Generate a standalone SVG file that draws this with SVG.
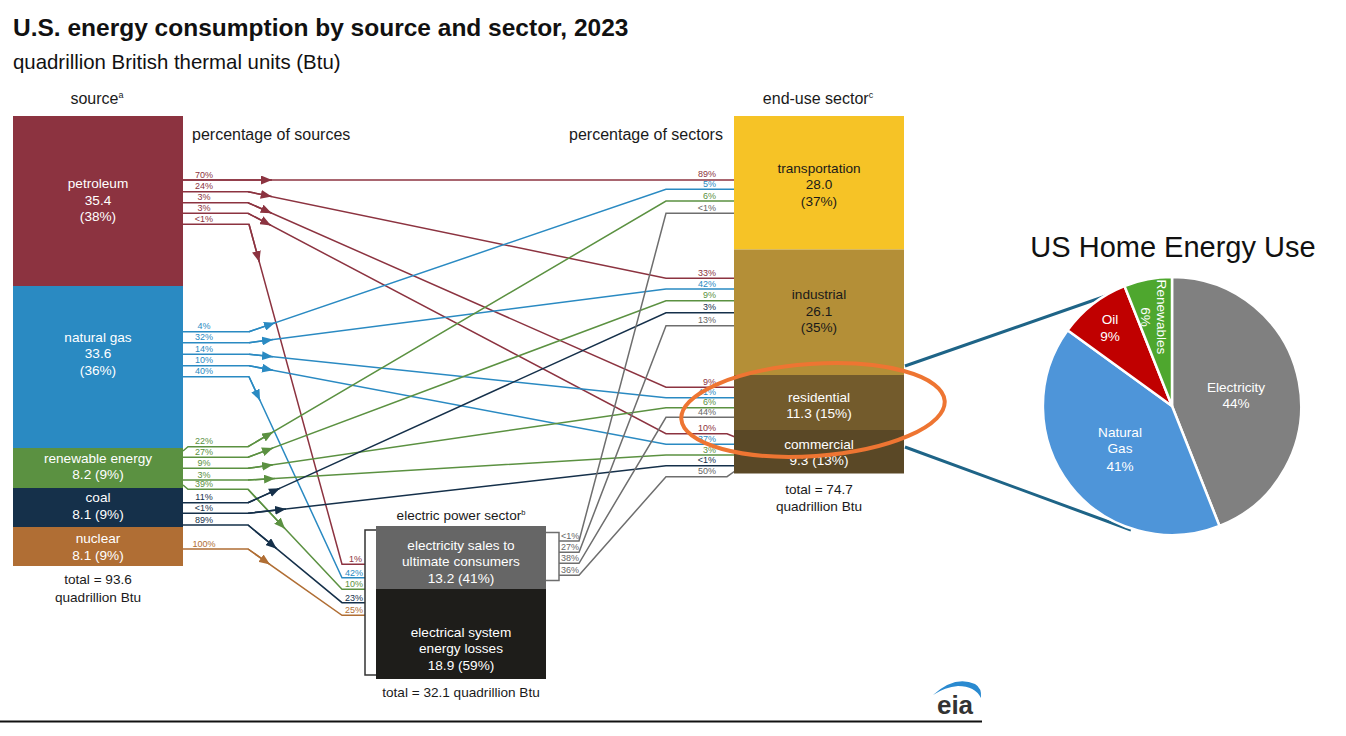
<svg xmlns="http://www.w3.org/2000/svg" width="1346" height="736" viewBox="0 0 1346 736">
<style>
text{font-family:"Liberation Sans",Arial,sans-serif}
.hd{font-size:16px;fill:#1a1a1a}
.nl{font-size:13.6px;fill:#fff;text-anchor:middle}
.dl{font-size:13.6px;fill:#1a1a1a;text-anchor:middle}
.p{font-size:9px}
.pl{text-anchor:middle}
.pr{text-anchor:end}
.ln{fill:none;stroke-width:1.5}
.r{stroke:#8c3340}.b{stroke:#2a8ac2}.g{stroke:#5b9141}.n{stroke:#15304a}.o{stroke:#b06e34}.y{stroke:#6e6e6e}
.tr{fill:#8c3340}.tb{fill:#2a8ac2}.tg{fill:#5b9141}.tn{fill:#15304a}.to{fill:#b06e34}.ty{fill:#666}
.pt{font-size:13.6px;fill:#fff;text-anchor:middle}
</style>
<defs>
<marker id="ar" markerUnits="userSpaceOnUse" markerWidth="12" markerHeight="9" refX="11" refY="4.5" orient="auto"><path d="M0,0 L11,4.5 L0,9 z" fill="#8c3340"/></marker>
<marker id="ab" markerUnits="userSpaceOnUse" markerWidth="12" markerHeight="9" refX="11" refY="4.5" orient="auto"><path d="M0,0 L11,4.5 L0,9 z" fill="#2a8ac2"/></marker>
<marker id="ag" markerUnits="userSpaceOnUse" markerWidth="12" markerHeight="9" refX="11" refY="4.5" orient="auto"><path d="M0,0 L11,4.5 L0,9 z" fill="#5b9141"/></marker>
<marker id="an" markerUnits="userSpaceOnUse" markerWidth="12" markerHeight="9" refX="11" refY="4.5" orient="auto"><path d="M0,0 L11,4.5 L0,9 z" fill="#15304a"/></marker>
<marker id="ao" markerUnits="userSpaceOnUse" markerWidth="12" markerHeight="9" refX="11" refY="4.5" orient="auto"><path d="M0,0 L11,4.5 L0,9 z" fill="#b06e34"/></marker>
</defs>
<rect width="1346" height="736" fill="#fff"/>

<g id="titles">
<text x="13" y="35.5" font-size="24.5" font-weight="bold" fill="#111">U.S. energy consumption by source and sector, 2023</text>
<text x="13" y="68.5" font-size="20.4" fill="#111">quadrillion British thermal units (Btu)</text>
<text x="97" y="104" class="hd" text-anchor="middle">source<tspan font-size="9" dy="-6">a</tspan></text>
<text x="192" y="140" class="hd">percentage of sources</text>
<text x="646" y="140" class="hd" text-anchor="middle">percentage of sectors</text>
<text x="818" y="104" class="hd" text-anchor="middle">end-use sector<tspan font-size="9" dy="-6">c</tspan></text>
</g>

<g id="connectors">
<g class="ln r">
<path d="M183,180 H735"/>
<path d="M183,191.7 H248 L666,278.3 H735"/>
<path d="M183,202.7 H248 L666,387.3 H735"/>
<path d="M183,213.3 H248 L666,433.7 H727 L735,437"/>
<path d="M183,224.3 H249 L342,564.3 H365"/>
<path d="M183,180 L272,180" marker-end="url(#ar)"/>
<path d="M248,191.7 L271.7,196.6" marker-end="url(#ar)"/>
<path d="M248,202.7 L271.7,213.2" marker-end="url(#ar)"/>
<path d="M248,213.3 L271,225.4" marker-end="url(#ar)"/>
<path d="M249,224.3 L259.3,262" marker-end="url(#ar)"/>
</g>
<g class="ln b">
<path d="M183,331.7 H249 L666,189.3 H735"/>
<path d="M183,342.7 H249 L666,289 H735"/>
<path d="M183,354.3 H249 L666,397.7 H735"/>
<path d="M183,365.7 H249 L666,444.3 H735"/>
<path d="M183,376.7 H249 L342,577.7 H365"/>
<path d="M249,331.7 L275,322.8" marker-end="url(#ab)"/>
<path d="M249,342.7 L273,339.6" marker-end="url(#ab)"/>
<path d="M249,354.3 L273,356.8" marker-end="url(#ab)"/>
<path d="M249,365.7 L273,370.2" marker-end="url(#ab)"/>
<path d="M249,376.7 L260,400.5" marker-end="url(#ab)"/>
</g>
<g class="ln g">
<path d="M183,451 L188,446.7 H248 L666,201 H735"/>
<path d="M183,457.3 H248 L666,300.7 H735"/>
<path d="M183,468.3 H248 L666,407.7 H735"/>
<path d="M183,480 H248 L666,455 H735"/>
<path d="M183,485 L188,489.3 H248 L342,589.3 H365"/>
<path d="M248,446.7 L273,432" marker-end="url(#ag)"/>
<path d="M248,457.3 L273,448" marker-end="url(#ag)"/>
<path d="M248,468.3 L273,464.7" marker-end="url(#ag)"/>
<path d="M248,480 L275,478.4" marker-end="url(#ag)"/>
<path d="M248,489.3 L285,528.7" marker-end="url(#ag)"/>
</g>
<g class="ln n">
<path d="M183,502.7 H248 L666,312.7 H735"/>
<path d="M183,513.3 H248 L666,465.7 H735"/>
<path d="M183,525 H248 L342,602.7 H365"/>
<path d="M248,502.7 L280,488.2" marker-end="url(#an)"/>
<path d="M248,513.3 L286,509" marker-end="url(#an)"/>
<path d="M248,525 L276.7,548.7" marker-end="url(#an)"/>
</g>
<g class="ln o">
<path d="M183,549 H248 L342,615.3 H365"/>
<path d="M248,549 L270,564.5" marker-end="url(#ao)"/>
</g>
<g class="ln y">
<path d="M559,541 H579 L666,213.3 H735"/>
<path d="M559,552.3 H579 L666,325.7 H735"/>
<path d="M559,563.3 H579 L666,417.3 H735"/>
<path d="M559,575.3 H579 L666,476.7 H727 L735,471"/>
</g>
<path class="ln" stroke="#333" d="M376,530 H365 V675 H376"/>
<path class="ln y" d="M546,532.5 H559 V580.5 H546"/>
</g>

<g id="conn-labels" class="p">
<g class="tr pl"><text x="204" y="177.5">70%</text><text x="204" y="189.2">24%</text><text x="204" y="200.2">3%</text><text x="204" y="210.8">3%</text><text x="204" y="221.8">&lt;1%</text></g>
<g class="tb pl"><text x="204" y="329.2">4%</text><text x="204" y="340.2">32%</text><text x="204" y="351.8">14%</text><text x="204" y="363.2">10%</text><text x="204" y="374.2">40%</text></g>
<g class="tg pl"><text x="204" y="444.2">22%</text><text x="204" y="454.8">27%</text><text x="204" y="465.8">9%</text><text x="204" y="477.5">3%</text><text x="204" y="486.8">39%</text></g>
<g class="tn pl"><text x="204" y="500.2">11%</text><text x="204" y="510.8">&lt;1%</text><text x="204" y="522.5">89%</text></g>
<g class="to pl"><text x="204" y="546.5">100%</text></g>
<g class="pr">
<text x="362" y="562" class="tr">1%</text><text x="363" y="575.5" class="tb">42%</text><text x="363" y="587" class="tg">10%</text><text x="363" y="600.5" class="tn">23%</text><text x="363" y="613" class="to">25%</text>
</g>
<g class="ty"><text x="561" y="539">&lt;1%</text><text x="561" y="550.3">27%</text><text x="561" y="561.3">38%</text><text x="561" y="573.3">36%</text></g>
<g class="pr">
<text x="716" y="177.3" class="tr">89%</text><text x="716" y="187" class="tb">5%</text><text x="716" y="198.7" class="tg">6%</text><text x="716" y="211" class="ty">&lt;1%</text>
<text x="716" y="276" class="tr">33%</text><text x="716" y="286.7" class="tb">42%</text><text x="716" y="298.4" class="tg">9%</text><text x="716" y="310.4" class="tn">3%</text><text x="716" y="323.4" class="ty">13%</text>
<text x="716" y="385" class="tr">9%</text><text x="716" y="395.4" class="tb">41%</text><text x="716" y="405.4" class="tg">6%</text><text x="716" y="415" class="ty">44%</text>
<text x="716" y="431.4" class="tr">10%</text><text x="716" y="442" class="tb">37%</text><text x="716" y="452.7" class="tg">3%</text><text x="716" y="463.4" class="tn">&lt;1%</text><text x="716" y="474.4" class="ty">50%</text>
</g>
</g>

<g id="src-petroleum"><rect x="13" y="116" width="170" height="170" fill="#8c3340"/><text class="nl" x="98" y="188">petroleum</text><text class="nl" x="98" y="205">35.4</text><text class="nl" x="98" y="221">(38%)</text></g>
<g id="src-natural-gas"><rect x="13" y="286" width="170" height="162" fill="#2a8ac2"/><text class="nl" x="98" y="342">natural gas</text><text class="nl" x="98" y="358">33.6</text><text class="nl" x="98" y="375">(36%)</text></g>
<g id="src-renewable"><rect x="13" y="448" width="170" height="40" fill="#5b9141"/><text class="nl" x="98" y="463">renewable energy</text><text class="nl" x="98" y="479">8.2 (9%)</text></g>
<g id="src-coal"><rect x="13" y="488" width="170" height="39" fill="#15304a"/><text class="nl" x="98" y="502">coal</text><text class="nl" x="98" y="519">8.1 (9%)</text></g>
<g id="src-nuclear"><rect x="13" y="527" width="170" height="39" fill="#b06e34"/><text class="nl" x="98" y="543">nuclear</text><text class="nl" x="98" y="560">8.1 (9%)</text></g>
<g id="src-total"><text class="dl" x="98" y="584">total = 93.6</text><text class="dl" x="98" y="602">quadrillion Btu</text></g>

<g id="electric-power">
<text class="dl" x="461" y="520" font-size="12.8">electric power sector<tspan font-size="7.5" dy="-5">b</tspan></text>
<rect x="376" y="526" width="170" height="63" fill="#666"/>
<text class="nl" x="461" y="549.5">electricity sales to</text><text class="nl" x="461" y="566">ultimate consumers</text><text class="nl" x="461" y="582.5">13.2 (41%)</text>
<rect x="376" y="589" width="170" height="90" fill="#1e1d1a"/>
<text class="nl" x="461" y="637">electrical system</text><text class="nl" x="461" y="653">energy losses</text><text class="nl" x="461" y="669.5">18.9 (59%)</text>
<text class="dl" x="461" y="697">total = 32.1 quadrillion Btu</text>
</g>

<g id="sec-transportation"><rect x="734" y="116" width="170" height="133.5" fill="#f6c326"/><text class="dl" x="819" y="173">transportation</text><text class="dl" x="819" y="189">28.0</text><text class="dl" x="819" y="206">(37%)</text></g>
<g id="sec-industrial"><rect x="734" y="249.5" width="170" height="125.5" fill="#b48f37"/><text class="dl" x="819" y="299">industrial</text><text class="dl" x="819" y="316">26.1</text><text class="dl" x="819" y="332">(35%)</text></g>
<g id="sec-residential"><rect x="734" y="375" width="170" height="55" fill="#735b2c"/><text class="nl" x="819" y="401.5">residential</text><text class="nl" x="819" y="418">11.3 (15%)</text></g>
<g id="sec-commercial"><rect x="734" y="430" width="170" height="43.5" fill="#5a4826"/><text class="nl" x="819" y="448.5">commercial</text><text class="nl" x="819" y="465">9.3 (13%)</text></g>
<g id="sec-total"><text class="dl" x="819" y="494">total = 74.7</text><text class="dl" x="819" y="511">quadrillion Btu</text></g>

<g id="callout">
<path d="M905,366 L1123,290 M905,447 L1131,530" stroke="#1e6487" stroke-width="3" fill="none"/>
<ellipse cx="813" cy="410" rx="132" ry="46" transform="rotate(-4 813 410)" fill="none" stroke="#ee7532" stroke-width="4"/>
</g>

<g id="pie">
<text x="1173" y="257" font-size="29" text-anchor="middle" fill="#111">US Home Energy Use</text>
<g stroke="#fff" stroke-width="2.5" stroke-linejoin="round">
<path d="M1172,406 L1172,277 A129,129 0 0 1 1219.5,526 Z" fill="#808080"/>
<path d="M1172,406 L1219.5,526 A129,129 0 0 1 1067.6,330.2 Z" fill="#4e95d9"/>
<path d="M1172,406 L1067.6,330.2 A129,129 0 0 1 1124.5,286 Z" fill="#c00000"/>
<path d="M1172,406 L1124.5,286 A129,129 0 0 1 1172,277 Z" fill="#4ea72e"/>
</g>
<text class="pt" x="1236" y="391.5">Electricity</text><text class="pt" x="1236" y="408">44%</text>
<text class="pt" x="1120" y="436.5">Natural</text><text class="pt" x="1120" y="453">Gas</text><text class="pt" x="1120" y="471">41%</text>
<text class="pt" x="1110" y="324">Oil</text><text class="pt" x="1110" y="341">9%</text>
<text class="pt" transform="translate(1157,317) rotate(90)">Renewables</text>
<text class="pt" transform="translate(1141,317) rotate(90)">6%</text>
</g>

<g id="eia-logo">
<line x1="0" y1="721.5" x2="982" y2="721.5" stroke="#111" stroke-width="2"/>
<path d="M933,695 Q955,675 975,684 Q982,688 981,698 Q975,686 958,686 Q945,687 933,695 Z" fill="#2a8ad0"/>
<text x="955" y="714" font-size="26" font-weight="bold" text-anchor="middle" fill="#333">eia</text>
</g>
</svg>
